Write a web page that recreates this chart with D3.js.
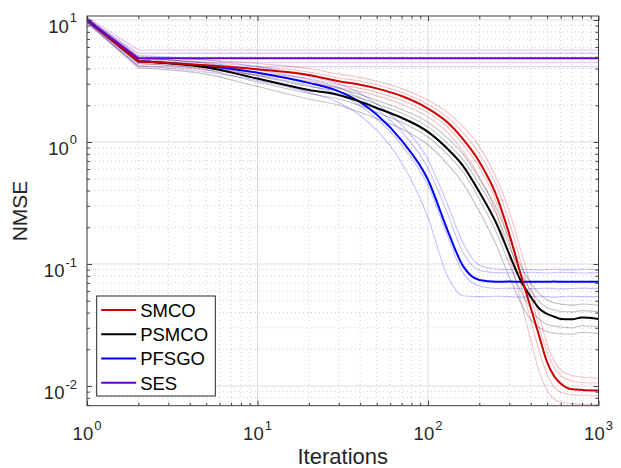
<!DOCTYPE html>
<html lang="en">
  <head>
    <meta charset="UTF-8" />
    <script src="https://cdn.jsdelivr.net/npm/d3@7"></script>
    <style>
      * {
        margin: 0;
        padding: 0;
      }
      body {
        background: #fff;
      }
      svg {
        display: block;
        font-family: 'Liberation Sans', Arial, Helvetica, sans-serif;
      }
    </style>
    <title>NMSE vs Iterations</title>
  </head>
  <body>
    <div id="container"></div>
  </body>
  <script>
    // iteration grid the curves were read at
    const iterations = [1, 2, 5, 10, 20, 30, 40, 50, 70, 100, 130, 160, 200, 250, 300, 350, 400, 450, 500, 550, 600, 700, 800, 1000];

    const smco = [10, 4.6, 4.25, 3.94, 3.54, 3.15, 2.95, 2.75, 2.38, 1.88, 1.45, 1.06, 0.69, 0.374, 0.175, 0.082, 0.044, 0.0254, 0.0156, 0.012, 0.0105, 0.0094, 0.0093, 0.0092];
    const smcoRuns = [
      [10.4, 5.0, 4.7, 4.4, 4.0, 3.6, 3.37, 3.15, 2.75, 2.2, 1.75, 1.35, 0.92, 0.52, 0.27, 0.13, 0.068, 0.037, 0.022, 0.016, 0.0135, 0.0122, 0.0118, 0.0116],
      [10.2, 4.8, 4.5, 4.15, 3.75, 3.35, 3.15, 2.95, 2.55, 2.03, 1.6, 1.2, 0.8, 0.45, 0.22, 0.105, 0.055, 0.03, 0.019, 0.0142, 0.0122, 0.011, 0.0107, 0.0106],
      [9.8, 4.4, 4.05, 3.7, 3.3, 2.95, 2.75, 2.55, 2.2, 1.74, 1.33, 0.96, 0.62, 0.33, 0.15, 0.068, 0.035, 0.019, 0.0125, 0.0098, 0.0089, 0.0085, 0.0084, 0.0084],
      [9.6, 4.25, 3.9, 3.55, 3.15, 2.8, 2.6, 2.4, 2.05, 1.6, 1.2, 0.85, 0.52, 0.27, 0.115, 0.05, 0.024, 0.013, 0.0092, 0.0078, 0.0074, 0.0072, 0.0071, 0.0071],
    ];

    const psmco = [10, 4.6, 4.1, 3.31, 2.67, 2.43, 2.14, 1.9, 1.58, 1.21, 0.88, 0.64, 0.39, 0.22, 0.12, 0.073, 0.054, 0.043, 0.039, 0.037, 0.0355, 0.0352, 0.0365, 0.0355];
    const psmcoRuns = [
      [10.3, 4.9, 4.4, 3.7, 3.05, 2.75, 2.45, 2.2, 1.85, 1.45, 1.08, 0.8, 0.5, 0.29, 0.16, 0.097, 0.07, 0.057, 0.051, 0.048, 0.047, 0.046, 0.047, 0.046],
      [10.1, 4.7, 4.25, 3.5, 2.85, 2.6, 2.3, 2.05, 1.72, 1.33, 0.98, 0.72, 0.45, 0.26, 0.14, 0.085, 0.061, 0.049, 0.044, 0.042, 0.041, 0.0405, 0.0415, 0.0406],
      [9.8, 4.4, 3.9, 3.1, 2.5, 2.25, 1.98, 1.75, 1.45, 1.1, 0.79, 0.57, 0.34, 0.185, 0.1, 0.06, 0.043, 0.035, 0.032, 0.031, 0.0305, 0.03, 0.0312, 0.0306],
      [9.6, 4.05, 3.6, 2.85, 2.25, 2.0, 1.75, 1.55, 1.28, 0.95, 0.66, 0.46, 0.27, 0.145, 0.078, 0.048, 0.035, 0.03, 0.028, 0.0272, 0.0268, 0.0266, 0.0275, 0.027],
    ];

    const pfsgo = [10, 4.6, 4.2, 3.7, 3.05, 2.6, 2.12, 1.68, 1.03, 0.49, 0.19, 0.097, 0.074, 0.0716, 0.0718, 0.0714, 0.0717, 0.0715, 0.0716, 0.0718, 0.0714, 0.0716, 0.0717, 0.0716];
    const pfsgoRuns = [
      [10.4, 5.1, 4.7, 4.15, 3.45, 3.0, 2.5, 2.05, 1.38, 0.72, 0.31, 0.15, 0.098, 0.091, 0.09, 0.0905, 0.09, 0.0895, 0.09, 0.0905, 0.09, 0.0895, 0.0905, 0.09],
      [10.2, 4.85, 4.45, 3.9, 3.25, 2.8, 2.3, 1.86, 1.22, 0.61, 0.26, 0.125, 0.089, 0.085, 0.0845, 0.085, 0.0855, 0.085, 0.0845, 0.085, 0.0855, 0.085, 0.0845, 0.085],
      [9.9, 4.5, 4.05, 3.5, 2.9, 2.45, 1.98, 1.55, 0.95, 0.44, 0.17, 0.085, 0.066, 0.063, 0.0635, 0.063, 0.0625, 0.063, 0.0635, 0.063, 0.0625, 0.063, 0.0635, 0.063],
      [9.6, 4.2, 3.75, 3.2, 2.55, 2.1, 1.65, 1.25, 0.68, 0.24, 0.08, 0.055, 0.054, 0.0545, 0.054, 0.0535, 0.054, 0.0545, 0.054, 0.0535, 0.054, 0.0545, 0.054, 0.054],
    ];

    // SES is flat after the first step
    const sesIterations = [1, 2, 1000];
    const ses = [10, 4.85, 4.85];
    const sesRuns = [
      [10.6, 5.68, 5.68],
      [10.3, 5.33, 5.33],
      [9.7, 4.5, 4.5],
      [9.4, 4.14, 4.14],
    ];

    const methodNames = ['SMCO', 'PSMCO', 'PFSGO', 'SES'];
    const xMajorTicks = [1, 10, 100, 1000];
    const yMajorTicks = [0.01, 0.1, 1, 10];

    const colorMap = {
      SMCO: '#cc0000',
      PSMCO: '#000000',
      PFSGO: '#0000ff',
      SES: '#6600cc',
    };

    const series = [
      { name: 'SMCO', its: iterations, mean: smco, runs: smcoRuns },
      { name: 'PSMCO', its: iterations, mean: psmco, runs: psmcoRuns },
      { name: 'PFSGO', its: iterations, mean: pfsgo, runs: pfsgoRuns },
      { name: 'SES', its: sesIterations, mean: ses, runs: sesRuns },
    ];

    const width = 621;
    const height = 468;
    const plotLeft = 87;
    const plotRight = 598.5;
    const plotTop = 16;
    const plotBottom = 405.7;

    const x = d3.scaleLog().domain([1, 1000]).range([plotLeft, plotRight]);
    const y = d3.scaleLog().domain([0.0069, 10.78]).range([plotBottom, plotTop]);

    const xMinorTicks = [];
    xMajorTicks.slice(0, -1).forEach((d) => {
      for (let k = 2; k <= 9; k++) xMinorTicks.push(d * k);
    });
    const yMinorTicks = [];
    [0.001, 0.01, 0.1, 1].forEach((d) => {
      for (let k = 2; k <= 9; k++) {
        const v = +(d * k).toPrecision(3);
        if (v >= y.domain()[0] && v <= y.domain()[1]) yMinorTicks.push(v);
      }
    });

    const svg = d3
      .select('#container')
      .append('svg')
      .attr('width', width)
      .attr('height', height);

    svg
      .append('defs')
      .append('clipPath')
      .attr('id', 'plotClip')
      .append('rect')
      .attr('x', plotLeft)
      .attr('y', plotTop)
      .attr('width', plotRight - plotLeft)
      .attr('height', plotBottom - plotTop);

    // minor grid (dotted)
    const grid = svg.append('g');
    grid
      .selectAll('.xminor')
      .data(xMinorTicks)
      .join('line')
      .attr('x1', (d) => x(d))
      .attr('x2', (d) => x(d))
      .attr('y1', plotTop)
      .attr('y2', plotBottom)
      .attr('stroke', '#c4c4c4')
      .attr('stroke-width', 0.8)
      .attr('stroke-dasharray', '1,3');
    grid
      .selectAll('.yminor')
      .data(yMinorTicks)
      .join('line')
      .attr('x1', plotLeft)
      .attr('x2', plotRight)
      .attr('y1', (d) => y(d))
      .attr('y2', (d) => y(d))
      .attr('stroke', '#c4c4c4')
      .attr('stroke-width', 0.8)
      .attr('stroke-dasharray', '1,3');

    // major grid (solid)
    grid
      .append('g')
      .selectAll('line')
      .data(xMajorTicks)
      .join('line')
      .attr('x1', (d) => x(d))
      .attr('x2', (d) => x(d))
      .attr('y1', plotTop)
      .attr('y2', plotBottom)
      .attr('stroke', '#dcdcdc')
      .attr('stroke-width', 1);
    grid
      .append('g')
      .selectAll('line')
      .data(yMajorTicks)
      .join('line')
      .attr('x1', plotLeft)
      .attr('x2', plotRight)
      .attr('y1', (d) => y(d))
      .attr('y2', (d) => y(d))
      .attr('stroke', '#dcdcdc')
      .attr('stroke-width', 1);

    // curves: straight first step, smooth after it
    const smooth = d3
      .line()
      .x((d) => x(d[0]))
      .y((d) => y(d[1]))
      .curve(d3.curveMonotoneX);

    function curvePath(its, vals) {
      const pts = its.map((it, i) => [it, vals[i]]);
      const rest = smooth(pts.slice(1));
      return `M${x(pts[0][0])},${y(pts[0][1])}L` + rest.slice(1);
    }

    const plot = svg.append('g').attr('clip-path', 'url(#plotClip)');

    // faint individual runs
    series.forEach((s) => {
      plot
        .append('g')
        .selectAll('path')
        .data(s.runs)
        .join('path')
        .attr('d', (run) => curvePath(s.its, run))
        .attr('fill', 'none')
        .attr('stroke', colorMap[s.name])
        .attr('stroke-opacity', 0.24)
        .attr('stroke-width', 1.1);
    });

    // mean curves
    ['PFSGO', 'PSMCO', 'SMCO', 'SES'].forEach((name) => {
      const s = series.find((d) => d.name === name);
      plot
        .append('path')
        .attr('d', curvePath(s.its, s.mean))
        .attr('fill', 'none')
        .attr('stroke', colorMap[name])
        .attr('stroke-width', 2)
        .attr('stroke-linejoin', 'round');
    });

    // ticks on all four sides, pointing inwards
    const axisColor = '#404040';
    function styleAxis(g) {
      g.select('.domain').remove();
      g.selectAll('line').attr('stroke', axisColor);
    }
    [
      [d3.axisBottom(x), `translate(0,${plotBottom})`],
      [d3.axisTop(x), `translate(0,${plotTop})`],
    ].forEach(([ax, tr]) => {
      svg.append('g').attr('transform', tr)
        .call(ax.tickValues(xMajorTicks).tickSize(-5).tickSizeOuter(0).tickFormat(''))
        .call(styleAxis);
      svg.append('g').attr('transform', tr)
        .call(ax.tickValues(xMinorTicks).tickSize(-3).tickSizeOuter(0).tickFormat(''))
        .call(styleAxis);
    });
    [
      [d3.axisLeft(y), `translate(${plotLeft},0)`],
      [d3.axisRight(y), `translate(${plotRight},0)`],
    ].forEach(([ax, tr]) => {
      svg.append('g').attr('transform', tr)
        .call(ax.tickValues(yMajorTicks).tickSize(-5).tickSizeOuter(0).tickFormat(''))
        .call(styleAxis);
      svg.append('g').attr('transform', tr)
        .call(ax.tickValues(yMinorTicks).tickSize(-3).tickSizeOuter(0).tickFormat(''))
        .call(styleAxis);
    });

    // box
    svg
      .append('rect')
      .attr('x', plotLeft)
      .attr('y', plotTop)
      .attr('width', plotRight - plotLeft)
      .attr('height', plotBottom - plotTop)
      .attr('fill', 'none')
      .attr('stroke', axisColor)
      .attr('stroke-width', 1);

    // tick labels as 10^n
    function powerLabel(sel) {
      sel
        .append('tspan')
        .attr('font-size', 18.5)
        .text('10');
      sel
        .append('tspan')
        .attr('font-size', 13)
        .attr('dx', 1)
        .attr('dy', -10.5)
        .text((d) => Math.round(Math.log10(d)));
    }

    svg
      .append('g')
      .selectAll('text')
      .data(xMajorTicks)
      .join('text')
      .attr('x', (d) => x(d))
      .attr('y', 440)
      .attr('text-anchor', 'middle')
      .attr('fill', '#262626')
      .call(powerLabel);

    svg
      .append('g')
      .selectAll('text')
      .data(yMajorTicks)
      .join('text')
      .attr('x', 77)
      .attr('y', (d) => y(d) + 13)
      .attr('text-anchor', 'end')
      .attr('fill', '#262626')
      .call(powerLabel);

    // axis titles
    svg
      .append('text')
      .text('Iterations')
      .attr('x', (plotLeft + plotRight) / 2)
      .attr('y', 463.5)
      .attr('text-anchor', 'middle')
      .attr('font-size', 22)
      .attr('fill', '#262626');

    svg
      .append('text')
      .text('NMSE')
      .attr('transform', `translate(26.5,211) rotate(-90)`)
      .attr('text-anchor', 'middle')
      .attr('font-size', 21)
      .attr('fill', '#262626');

    // legend
    const legendX = 96.7;
    const legendY = 296;
    const rowY = d3.scalePoint().domain(methodNames).range([legendY + 14, legendY + 86.7]);
    const legend = svg.append('g');
    legend
      .append('rect')
      .attr('x', legendX)
      .attr('y', legendY)
      .attr('width', 118.6)
      .attr('height', 100)
      .attr('fill', '#fff')
      .attr('stroke', '#262626')
      .attr('stroke-width', 1);
    legend
      .selectAll('line')
      .data(methodNames)
      .join('line')
      .attr('x1', legendX + 4.5)
      .attr('x2', legendX + 39.5)
      .attr('y1', (d) => rowY(d))
      .attr('y2', (d) => rowY(d))
      .attr('stroke', (d) => colorMap[d])
      .attr('stroke-width', 2);
    legend
      .selectAll('text')
      .data(methodNames)
      .join('text')
      .attr('x', legendX + 43.5)
      .attr('y', (d) => rowY(d) + 6.8)
      .attr('font-size', 18.5)
      .attr('fill', '#000')
      .text((d) => d);
  </script>
</html>
